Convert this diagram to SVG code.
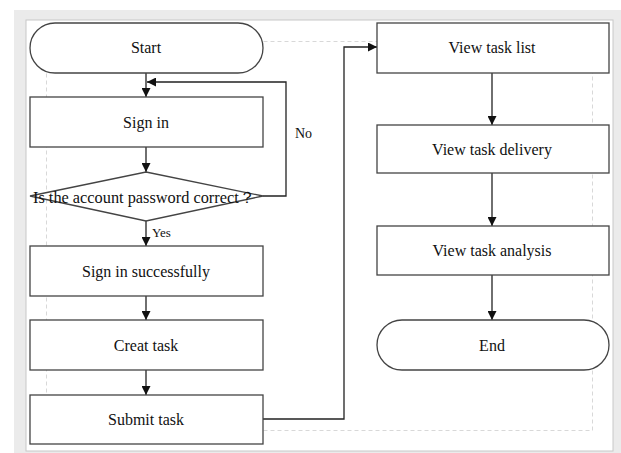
<svg xmlns="http://www.w3.org/2000/svg" width="621" height="453" viewBox="0 0 621 453">
<defs>
<marker id="ah" viewBox="0 0 10 10" refX="10" refY="5" markerWidth="9" markerHeight="9" markerUnits="userSpaceOnUse" orient="auto">
<path d="M0,0 L10,5 L0,10 z" fill="#111"/>
</marker>
</defs>
<style>
.shape{fill:#fff;stroke:#444;stroke-width:1.3}
.lbl{font-family:"Liberation Serif","Times New Roman",serif;font-size:16px;fill:#111;text-anchor:middle;dominant-baseline:central}
.small{font-family:"Liberation Serif","Times New Roman",serif;fill:#111}
.conn{fill:none;stroke:#222;stroke-width:1.3}
</style>
<rect x="0" y="0" width="621" height="453" fill="#fff"/>
<rect x="14" y="10" width="607" height="443" fill="#ebebeb"/>
<rect x="26" y="20" width="587" height="431" fill="#fff" stroke="#c8c8c8" stroke-width="1"/>
<rect x="46.5" y="41.5" width="546" height="389" fill="none" stroke="#d8d8d8" stroke-width="1" stroke-dasharray="4,3"/>

<g id="connectors">
<line class="conn" x1="146" y1="73" x2="146" y2="97" marker-end="url(#ah)"/>
<line class="conn" x1="146" y1="147" x2="146" y2="172" marker-end="url(#ah)"/>
<polyline class="conn" points="263,196 286,196 286,82 147,82" marker-end="url(#ah)"/>
<line class="conn" x1="146" y1="221" x2="146" y2="246" marker-end="url(#ah)"/>
<line class="conn" x1="146" y1="296" x2="146" y2="320" marker-end="url(#ah)"/>
<line class="conn" x1="146" y1="370" x2="146" y2="395" marker-end="url(#ah)"/>
<polyline class="conn" points="263,419 344,419 344,47 377,47" marker-end="url(#ah)"/>
<line class="conn" x1="492" y1="73" x2="492" y2="125" marker-end="url(#ah)"/>
<line class="conn" x1="492" y1="173" x2="492" y2="226" marker-end="url(#ah)"/>
<line class="conn" x1="492" y1="275" x2="492" y2="320" marker-end="url(#ah)"/>
<text class="small" x="295" y="138" font-size="14">No</text>
<text class="small" x="152" y="237" font-size="13">Yes</text>
</g>

<g id="start">
<rect class="shape" x="30" y="23" width="233" height="50" rx="25" ry="25"/>
<text class="lbl" x="146" y="47">Start</text>
</g>
<g id="signin">
<rect class="shape" x="30" y="97" width="233" height="50"/>
<text class="lbl" x="146" y="122">Sign in</text>
</g>
<g id="decision">
<polygon class="shape" points="146,172 263,196 146,221 30,196"/>
<text class="lbl" x="144" y="197" font-size="15" textLength="222" lengthAdjust="spacingAndGlyphs">Is the account password correct？</text>
</g>
<g id="success">
<rect class="shape" x="30" y="246" width="233" height="50"/>
<text class="lbl" x="146" y="271">Sign in successfully</text>
</g>
<g id="create">
<rect class="shape" x="30" y="320" width="233" height="50"/>
<text class="lbl" x="146" y="345">Creat task</text>
</g>
<g id="submit">
<rect class="shape" x="30" y="395" width="233" height="49"/>
<text class="lbl" x="146" y="419">Submit task</text>
</g>
<g id="viewlist">
<rect class="shape" x="377" y="23" width="232" height="50"/>
<text class="lbl" x="492" y="47">View task list</text>
</g>
<g id="viewdelivery">
<rect class="shape" x="377" y="125" width="232" height="48"/>
<text class="lbl" x="492" y="149">View task delivery</text>
</g>
<g id="viewanalysis">
<rect class="shape" x="377" y="226" width="232" height="49"/>
<text class="lbl" x="492" y="250">View task analysis</text>
</g>
<g id="end">
<rect class="shape" x="377" y="320" width="232" height="50" rx="25" ry="25"/>
<text class="lbl" x="492" y="345">End</text>
</g>
</svg>
